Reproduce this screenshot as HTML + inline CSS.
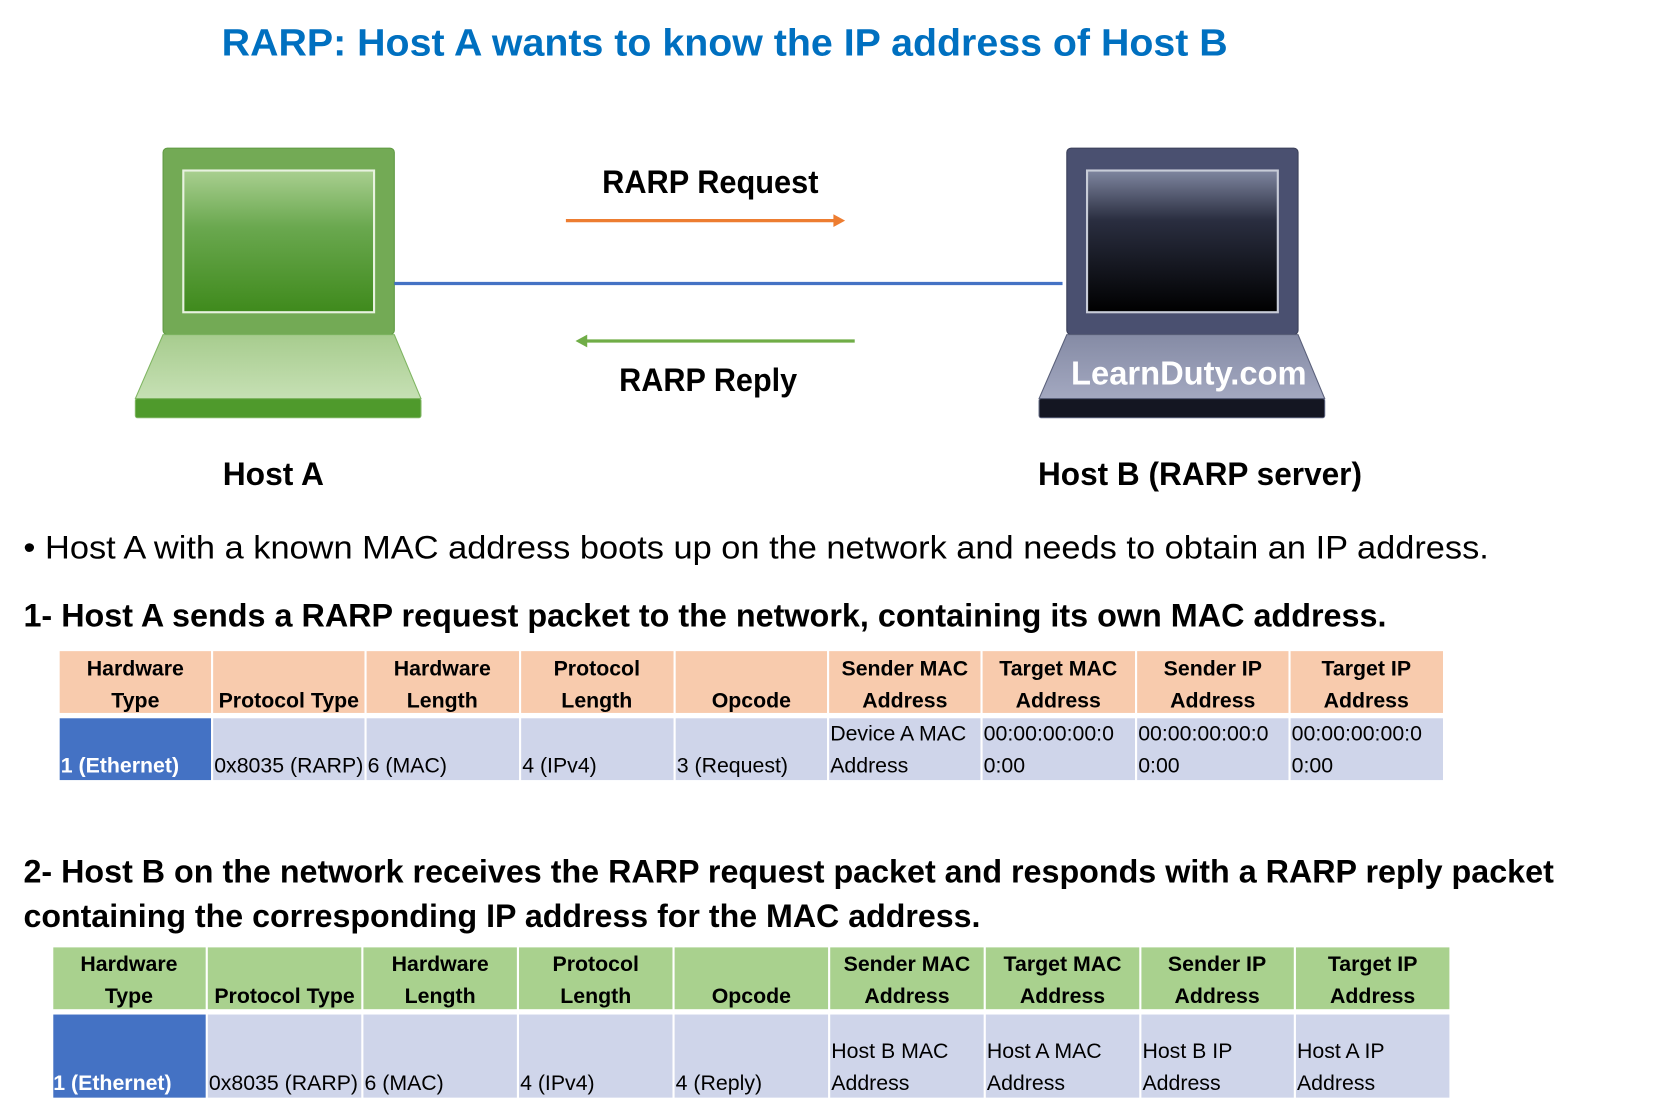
<!DOCTYPE html>
<html><head><meta charset="utf-8"><style>
html,body{margin:0;padding:0;background:#fff;}
svg{display:block;}
text{font-family:"Liberation Sans",sans-serif;}
.b{font-weight:bold;}
.h{font-weight:bold;font-size:20px;text-anchor:middle;fill:#000;}
.d{font-size:20px;fill:#000;}
</style></head><body>
<svg width="1670" height="1113" viewBox="0 0 1567 1044.4" preserveAspectRatio="none" xmlns="http://www.w3.org/2000/svg">
<defs>
<linearGradient id="gA" x1="0" y1="0" x2="0" y2="1"><stop offset="0" stop-color="#a9cf90"/><stop offset="0.4" stop-color="#6aa84f"/><stop offset="1" stop-color="#3f8a1c"/></linearGradient>
<linearGradient id="gAb" x1="0" y1="0" x2="0" y2="1"><stop offset="0" stop-color="#a7cc8e"/><stop offset="1" stop-color="#c6e0b4"/></linearGradient>
<linearGradient id="gB" x1="0" y1="0" x2="0" y2="1"><stop offset="0" stop-color="#7f86a0"/><stop offset="0.35" stop-color="#2a2e40"/><stop offset="1" stop-color="#000"/></linearGradient>
<linearGradient id="gBb" x1="0" y1="0" x2="0" y2="1"><stop offset="0" stop-color="#858ba5"/><stop offset="1" stop-color="#a3a8c0"/></linearGradient>
</defs>
<text x="208" y="52" class="b" font-size="36" fill="#0070C0" textLength="944" lengthAdjust="spacingAndGlyphs">RARP: Host A wants to know the IP address of Host B</text>

<rect x="153" y="139" width="217" height="175" rx="4" fill="#73aa55" stroke="#5f9a42"/>
<rect x="172" y="160" width="179" height="133" fill="url(#gA)" stroke="#e8f2e0" stroke-width="2"/>
<polygon points="153,314 370,314 395,374 127,374" fill="url(#gAb)" stroke="#7fb562"/>
<rect x="127" y="374" width="268" height="18" rx="2" fill="#4f9a2c" stroke="#7fb562"/>
<rect x="1001" y="139" width="217" height="175" rx="4" fill="#4a5070" stroke="#3a3f58"/>
<rect x="1020" y="160" width="179" height="133" fill="url(#gB)" stroke="#c8ccd8" stroke-width="2"/>
<polygon points="1001,314 1218,314 1243,374 975,374" fill="url(#gBb)" stroke="#5a607a"/>
<rect x="975" y="374" width="268" height="18" rx="2" fill="#141622" stroke="#5a607a"/>
<text x="1005" y="361" class="b" font-size="31" fill="#fff" textLength="221" lengthAdjust="spacingAndGlyphs">LearnDuty.com</text>

<line x1="370" y1="266" x2="997" y2="266" stroke="#4472C4" stroke-width="3"/>
<line x1="531" y1="207" x2="785" y2="207" stroke="#ED7D31" stroke-width="3"/>
<polygon points="793,207 782,201 782,213" fill="#ED7D31"/>
<line x1="548" y1="320" x2="802" y2="320" stroke="#70AD47" stroke-width="3"/>
<polygon points="540,320 551,314 551,326" fill="#70AD47"/>
<text x="565" y="181" class="b" font-size="30" textLength="203" lengthAdjust="spacingAndGlyphs">RARP Request</text>
<text x="581" y="367" class="b" font-size="30" textLength="167" lengthAdjust="spacingAndGlyphs">RARP Reply</text>
<text x="209" y="455" class="b" font-size="30" textLength="95" lengthAdjust="spacingAndGlyphs">Host A</text>
<text x="974" y="455" class="b" font-size="30" textLength="304" lengthAdjust="spacingAndGlyphs">Host B (RARP server)</text>
<text x="22" y="524" font-size="30" textLength="1375" lengthAdjust="spacingAndGlyphs">• Host A with a known MAC address boots up on the network and needs to obtain an IP address.</text>
<text x="22" y="588" class="b" font-size="30" textLength="1279" lengthAdjust="spacingAndGlyphs">1- Host A sends a RARP request packet to the network, containing its own MAC address.</text>
<text x="22" y="828" class="b" font-size="30" textLength="1436" lengthAdjust="spacingAndGlyphs">2- Host B on the network receives the RARP request packet and responds with a RARP reply packet</text>
<text x="22" y="870" class="b" font-size="30" textLength="898" lengthAdjust="spacingAndGlyphs">containing the corresponding IP address for the MAC address.</text>

<g fill="#F8CBAD">
<rect x="56" y="611" width="142" height="58"/><rect x="200" y="611" width="142" height="58"/><rect x="344" y="611" width="143" height="58"/><rect x="489" y="611" width="143" height="58"/><rect x="634" y="611" width="142" height="58"/><rect x="778" y="611" width="142" height="58"/><rect x="922" y="611" width="143" height="58"/><rect x="1067" y="611" width="142" height="58"/><rect x="1211" y="611" width="143" height="58"/>
</g>
<g fill="#CFD5EA">
<rect x="200" y="674" width="142" height="58"/><rect x="344" y="674" width="143" height="58"/><rect x="489" y="674" width="143" height="58"/><rect x="634" y="674" width="142" height="58"/><rect x="778" y="674" width="142" height="58"/><rect x="922" y="674" width="143" height="58"/><rect x="1067" y="674" width="142" height="58"/><rect x="1211" y="674" width="143" height="58"/>
</g>
<rect x="56" y="674" width="142" height="58" fill="#4472C4"/>
<text class="h" x="127" y="634">Hardware</text><text class="h" x="127" y="664">Type</text>
<text class="h" x="271" y="664">Protocol Type</text>
<text class="h" x="415" y="634">Hardware</text><text class="h" x="415" y="664">Length</text>
<text class="h" x="560" y="634">Protocol</text><text class="h" x="560" y="664">Length</text>
<text class="h" x="705" y="664">Opcode</text>
<text class="h" x="849" y="634">Sender MAC</text><text class="h" x="849" y="664">Address</text>
<text class="h" x="993" y="634">Target MAC</text><text class="h" x="993" y="664">Address</text>
<text class="h" x="1138" y="634">Sender IP</text><text class="h" x="1138" y="664">Address</text>
<text class="h" x="1282" y="634">Target IP</text><text class="h" x="1282" y="664">Address</text>
<text class="d b" x="57" y="725" style="fill:#fff">1 (Ethernet)</text>
<text class="d" x="201" y="725">0x8035 (RARP)</text>
<text class="d" x="345" y="725">6 (MAC)</text>
<text class="d" x="490" y="725">4 (IPv4)</text>
<text class="d" x="635" y="725">3 (Request)</text>
<text class="d" x="779" y="695">Device A MAC</text><text class="d" x="779" y="725">Address</text>
<text class="d" x="923" y="695">00:00:00:00:0</text><text class="d" x="923" y="725">0:00</text>
<text class="d" x="1068" y="695">00:00:00:00:0</text><text class="d" x="1068" y="725">0:00</text>
<text class="d" x="1212" y="695">00:00:00:00:0</text><text class="d" x="1212" y="725">0:00</text>

<g fill="#A9D18E">
<rect x="50" y="889" width="143" height="58"/><rect x="195" y="889" width="144" height="58"/><rect x="341" y="889" width="144" height="58"/><rect x="487" y="889" width="144" height="58"/><rect x="633" y="889" width="144" height="58"/><rect x="779" y="889" width="144" height="58"/><rect x="925" y="889" width="144" height="58"/><rect x="1071" y="889" width="143" height="58"/><rect x="1216" y="889" width="144" height="58"/>
</g>
<g fill="#CFD5EA">
<rect x="195" y="952" width="144" height="78"/><rect x="341" y="952" width="144" height="78"/><rect x="487" y="952" width="144" height="78"/><rect x="633" y="952" width="144" height="78"/><rect x="779" y="952" width="144" height="78"/><rect x="925" y="952" width="144" height="78"/><rect x="1071" y="952" width="143" height="78"/><rect x="1216" y="952" width="144" height="78"/>
</g>
<rect x="50" y="952" width="143" height="78" fill="#4472C4"/>
<text class="h" x="121" y="911">Hardware</text><text class="h" x="121" y="941">Type</text>
<text class="h" x="267" y="941">Protocol Type</text>
<text class="h" x="413" y="911">Hardware</text><text class="h" x="413" y="941">Length</text>
<text class="h" x="559" y="911">Protocol</text><text class="h" x="559" y="941">Length</text>
<text class="h" x="705" y="941">Opcode</text>
<text class="h" x="851" y="911">Sender MAC</text><text class="h" x="851" y="941">Address</text>
<text class="h" x="997" y="911">Target MAC</text><text class="h" x="997" y="941">Address</text>
<text class="h" x="1142" y="911">Sender IP</text><text class="h" x="1142" y="941">Address</text>
<text class="h" x="1288" y="911">Target IP</text><text class="h" x="1288" y="941">Address</text>
<text class="d b" x="50" y="1023" style="fill:#fff">1 (Ethernet)</text>
<text class="d" x="196" y="1023">0x8035 (RARP)</text>
<text class="d" x="342" y="1023">6 (MAC)</text>
<text class="d" x="488" y="1023">4 (IPv4)</text>
<text class="d" x="634" y="1023">4 (Reply)</text>
<text class="d" x="780" y="993">Host B MAC</text><text class="d" x="780" y="1023">Address</text>
<text class="d" x="926" y="993">Host A MAC</text><text class="d" x="926" y="1023">Address</text>
<text class="d" x="1072" y="993">Host B IP</text><text class="d" x="1072" y="1023">Address</text>
<text class="d" x="1217" y="993">Host A IP</text><text class="d" x="1217" y="1023">Address</text>
</svg>
</body></html>
